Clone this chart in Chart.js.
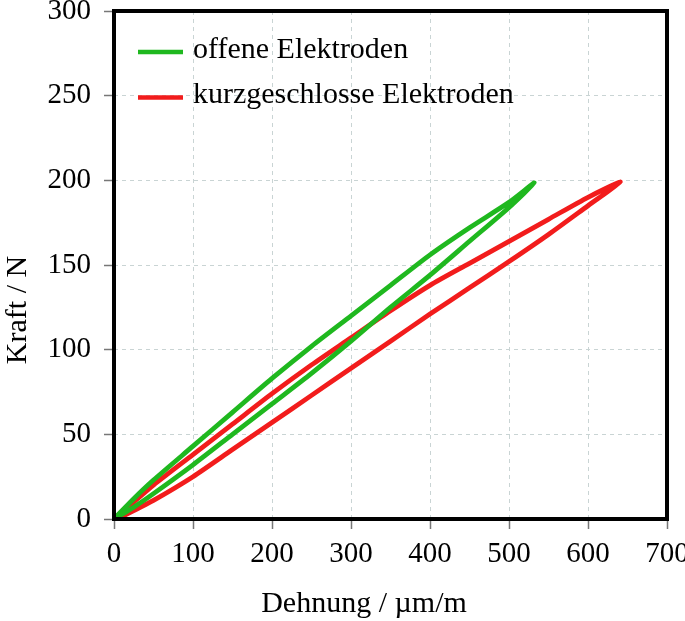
<!DOCTYPE html>
<html>
<head>
<meta charset="utf-8">
<script src="https://cdn.jsdelivr.net/npm/chart.js@4/dist/chart.umd.min.js"></script>
<style>
    html, body { margin: 0; padding: 0; background: #fff; }
</style>
</head>
<body>
<canvas id="chart" width="685" height="621"></canvas>
<script>
// ─────────────────────────────
// DATA
// ─────────────────────────────
const seriesLabels = ["offene Elektroden", "kurzgeschlosse Elektroden"];

// offene Elektroden: upper branch going out, lower branch coming back
const openUpX = [0, 25, 50, 100, 150, 200, 250, 300, 350, 400, 450, 500, 532];
const openUpY = [0, 12, 23, 43, 63, 83, 102, 120, 138, 156, 172, 187, 198.5];
const openDownX = [500, 450, 400, 350, 300, 250, 200, 150, 100, 50, 25, 0];
const openDownY = [184, 164, 144, 125, 105, 86, 68, 50, 32, 15, 7, 0];

// kurzgeschlosse Elektroden
const shortUpX = [0, 25, 50, 100, 150, 200, 250, 300, 350, 400, 450, 500, 550, 600, 641];
const shortUpY = [0, 10, 20, 38, 56, 74, 91, 107, 123, 138, 151, 164, 177, 190, 199];
const shortDownX = [600, 550, 500, 450, 400, 350, 300, 250, 200, 150, 100, 50, 25, 5];
const shortDownY = [185, 168, 152, 136.5, 121, 105, 89, 73, 57, 41, 25, 11, 5, 0];

const xTicks = [0, 100, 200, 300, 400, 500, 600, 700];
const yTicks = [0, 50, 100, 150, 200, 250, 300];

const xTitle = "Dehnung / \u00b5m/m";
const yTitle = "Kraft / N";

// ─────────────────────────────
// HELPERS
// ─────────────────────────────
const SERIF = '"Liberation Serif", "Times New Roman", serif';

function loop(ux, uy, dx, dy) {
    const pts = ux.map((x, i) => ({ x: x, y: uy[i] }));
    return pts.concat(dx.map((x, i) => ({ x: x, y: dy[i] })));
}

// legend inside the plot, frame, axis titles
const decor = {
    id: "decor",
    afterDatasetsDraw(chart) {
        const ctx = chart.ctx;
        const a = chart.chartArea;

        ctx.save();
        ctx.strokeStyle = "#000";
        ctx.lineWidth = 4;
        ctx.strokeRect(a.left, a.top, a.right - a.left, a.bottom - a.top);

        chart.data.datasets.forEach((ds, i) => {
            const y = a.top + 41 + i * 45.5;
            ctx.strokeStyle = ds.borderColor;
            ctx.lineWidth = 4.5;
            ctx.beginPath();
            ctx.moveTo(a.left + 24, y);
            ctx.lineTo(a.left + 69, y);
            ctx.stroke();
            ctx.fillStyle = "#000";
            ctx.font = "30px " + SERIF;
            ctx.textAlign = "left";
            ctx.textBaseline = "middle";
            ctx.fillText(ds.label, a.left + 79, y - 2);
        });

        ctx.font = "30px " + SERIF;
        ctx.fillStyle = "#000";
        ctx.textAlign = "center";
        ctx.textBaseline = "middle";
        ctx.fillText(xTitle, 364, 604);

        ctx.translate(18, 310);
        ctx.rotate(-Math.PI / 2);
        ctx.fillText(yTitle, 0, 0);
        ctx.restore();
    }
};

// ─────────────────────────────
// CHART
// ─────────────────────────────
new Chart(document.getElementById("chart"), {
    type: "scatter",
    data: {
        datasets: [{
            label: seriesLabels[0],
            data: loop(openUpX, openUpY, openDownX, openDownY),
            borderColor: "#1fb81f",
            borderWidth: 4.8,
            showLine: true,
            pointRadius: 0,
            tension: 0.25
        }, {
            label: seriesLabels[1],
            data: loop(shortUpX, shortUpY, shortDownX, shortDownY),
            borderColor: "#f21c1c",
            borderWidth: 4.8,
            showLine: true,
            pointRadius: 0,
            tension: 0.25
        }]
    },
    options: {
        responsive: false,
        animation: false,
        layout: { padding: { top: 11, right: 18, left: 0, bottom: 0 } },
        plugins: {
            legend: { display: false },
            tooltip: { enabled: false }
        },
        scales: {
            x: {
                type: "linear",
                min: 0,
                max: 700,
                afterFit: s => {
                    s.height = 102;
                    s.paddingLeft = 0;
                    s.paddingRight = 0;
                },
                afterBuildTicks: s => { s.ticks = xTicks.map(v => ({ value: v })); },
                ticks: {
                    color: "#000",
                    font: { family: SERIF, size: 29 },
                    padding: 8,
                    maxRotation: 0
                },
                grid: {
                    color: "#c9d4d4",
                    tickColor: "#777",
                    tickLength: 10,
                    tickWidth: 1.5
                },
                border: { display: false, dash: [4, 4] }
            },
            y: {
                type: "linear",
                min: 0,
                max: 300,
                afterFit: s => {
                    s.width = 114;
                    s.paddingTop = 0;
                    s.paddingBottom = 0;
                },
                afterBuildTicks: s => { s.ticks = yTicks.map(v => ({ value: v })); },
                ticks: {
                    color: "#000",
                    font: { family: SERIF, size: 29 },
                    padding: 13
                },
                grid: {
                    color: "#c9d4d4",
                    tickColor: "#777",
                    tickLength: 10,
                    tickWidth: 1.5
                },
                border: { display: false, dash: [4, 4] }
            }
        }
    },
    plugins: [decor]
});
</script>
</body>
</html>
